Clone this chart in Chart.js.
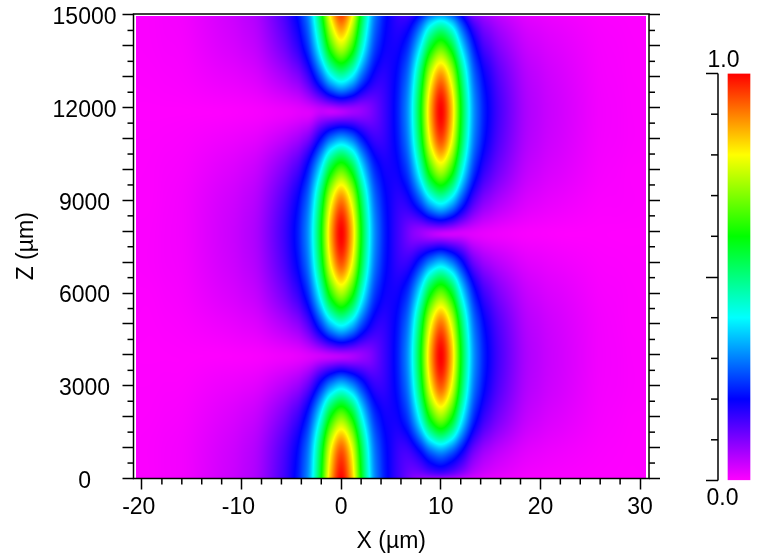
<!DOCTYPE html>
<html>
<head>
<meta charset="utf-8">
<script src="https://cdn.jsdelivr.net/npm/chart.js@4"></script>
<style>
  html, body { margin: 0; padding: 0; background: #fff; }
  #wrap { position: relative; width: 770px; height: 559px; overflow: hidden; }
  canvas { position: absolute; }
</style>
</head>
<body>
<div id="wrap">
  <canvas id="field" width="770" height="559" style="left:0;top:0"></canvas>
  <canvas id="bar" width="80" height="559" style="left:690px;top:0"></canvas>
</div>
<script>
// grid positions, values estimated from where the colour bands sit in the reference
const xs = [-21,-18,-15,-12,-10,-8,-6,-5,-4,-3,-2,-1,0,1,2,3,4,5,6,7,8,9,10,11,12,13,14,15,16,18,20,22,25,28,31];
const zs = [0,1000,2000,3000,4000,5000,6000,7000,8000,9000,10000,11000,12000,13000,14000,15000];

const z0     = [.002,.006,.015,.035,.050,.078,.140,.185,.250,.370,.600,.870,1.00,.870,.600,.370,.250,.185,.140,.100,.075,.058,.045,.042,.035,.028,.021,.015,.012,.006,.003,.002,.001,.000,.000];
const z1000  = [.002,.006,.014,.032,.046,.072,.129,.170,.230,.341,.552,.800,.920,.800,.553,.343,.237,.185,.155,.170,.232,.318,.360,.315,.232,.145,.095,.070,.053,.030,.019,.013,.006,.002,.001];
const z2000  = [.001,.004,.010,.024,.035,.054,.097,.129,.174,.265,.418,.606,.696,.607,.422,.274,.203,.185,.206,.282,.436,.628,.720,.627,.433,.272,.181,.134,.102,.057,.036,.025,.011,.004,.001];
const z3000  = [.001,.002,.005,.013,.018,.028,.051,.067,.091,.143,.231,.319,.366,.322,.243,.176,.158,.185,.239,.347,.560,.812,.932,.811,.560,.345,.234,.173,.131,.073,.047,.033,.014,.006,.002];
const z4000  = [.000,.000,.001,.002,.004,.007,.013,.016,.022,.031,.040,.050,.058,.066,.080,.101,.140,.185,.250,.370,.600,.870,1.00,.870,.600,.370,.250,.185,.140,.078,.050,.035,.015,.006,.002];
const z5000  = [.001,.002,.006,.014,.021,.032,.058,.076,.103,.163,.259,.363,.417,.366,.267,.193,.164,.185,.236,.340,.548,.793,.911,.793,.547,.338,.229,.170,.129,.071,.046,.032,.014,.005,.002];
const z6000  = [.001,.004,.011,.026,.037,.057,.103,.136,.183,.277,.441,.639,.734,.640,.444,.286,.208,.185,.201,.270,.413,.594,.681,.593,.409,.260,.172,.128,.096,.054,.034,.024,.010,.004,.001];
const z7000  = [.002,.006,.014,.033,.047,.073,.131,.174,.235,.348,.564,.817,.939,.817,.564,.350,.240,.185,.156,.170,.233,.307,.348,.303,.221,.135,.088,.065,.050,.028,.018,.012,.005,.002,.001];
const z8000  = [.002,.006,.015,.035,.050,.078,.140,.185,.250,.370,.599,.869,.999,.869,.599,.370,.250,.185,.140,.101,.080,.067,.058,.049,.038,.030,.022,.017,.013,.007,.004,.002,.001,.000,.000];
const z9000  = [.002,.005,.014,.032,.045,.070,.126,.167,.226,.335,.542,.786,.903,.786,.543,.338,.234,.185,.166,.198,.276,.381,.435,.378,.268,.169,.110,.082,.062,.035,.022,.015,.006,.003,.001];
const z10000 = [.001,.004,.010,.023,.033,.052,.093,.123,.166,.256,.400,.580,.666,.581,.405,.266,.199,.185,.210,.290,.452,.652,.748,.651,.449,.283,.187,.139,.106,.059,.037,.026,.011,.004,.001];
const z11000 = [.001,.002,.005,.011,.016,.025,.045,.060,.081,.124,.209,.290,.329,.296,.222,.165,.154,.185,.241,.352,.568,.824,.946,.823,.568,.351,.237,.175,.132,.074,.047,.033,.014,.006,.002];
const z12000 = [.000,.000,.001,.003,.005,.009,.016,.020,.027,.038,.055,.064,.079,.084,.086,.105,.140,.185,.250,.369,.599,.868,.998,.868,.599,.369,.249,.185,.140,.078,.050,.035,.015,.006,.002];
const z13000 = [.001,.003,.007,.016,.022,.035,.063,.083,.112,.177,.278,.394,.453,.397,.286,.203,.168,.185,.233,.334,.537,.778,.893,.777,.536,.331,.223,.167,.125,.070,.045,.031,.013,.005,.002];
const z14000 = [.002,.005,.011,.027,.038,.059,.106,.140,.190,.287,.456,.661,.760,.662,.459,.295,.212,.185,.197,.262,.397,.569,.653,.568,.392,.252,.163,.122,.091,.051,.033,.023,.010,.004,.001];
const z15000 = [.002,.006,.014,.033,.048,.074,.133,.176,.238,.353,.571,.828,.952,.828,.572,.354,.242,.185,.153,.159,.213,.281,.312,.276,.199,.114,.080,.060,.045,.025,.016,.011,.005,.002,.001];
const rows = [z0,z1000,z2000,z3000,z4000,z5000,z6000,z7000,z8000,z9000,z10000,z11000,z12000,z13000,z14000,z15000];

const yTickLabels = [0,3000,6000,9000,12000,15000];
const barTickLabels = ["0.0","1.0"];
const colourStops = [[0,255,0,255],[.2,0,0,255],[.4,0,255,255],[.6,0,255,0],[.8,255,255,0],[1,255,0,0]];

const FONT = "'Liberation Sans', Arial, sans-serif";
const FONT_SIZE = 23;

function colourAt(v) {
  for (let i = 1; i < colourStops.length; i++) {
    const a = colourStops[i-1], b = colourStops[i];
    if (v <= b[0]) {
      const t = (v - a[0]) / (b[0] - a[0]);
      return [a[1]+(b[1]-a[1])*t, a[2]+(b[2]-a[2])*t, a[3]+(b[3]-a[3])*t];
    }
  }
  return [255,0,0];
}

// cubic between grid nodes, on squared values so the dark nulls stay smooth
function cubic(pos, f, p) {
  let i = 0;
  while (i < pos.length-2 && p > pos[i+1]) i++;
  const h = pos[i+1]-pos[i], t = Math.max(0, Math.min(1, (p-pos[i])/h));
  const m0 = i > 0 ? (f[i+1]-f[i-1])/(pos[i+1]-pos[i-1]) : (f[i+1]-f[i])/h;
  const m1 = i < pos.length-2 ? (f[i+2]-f[i])/(pos[i+2]-pos[i]) : (f[i+1]-f[i])/h;
  const t2 = t*t, t3 = t2*t;
  return (2*t3-3*t2+1)*f[i] + (t3-2*t2+t)*h*m0 + (-2*t3+3*t2)*f[i+1] + (t3-t2)*h*m1;
}

const squared = rows.map(r => r.map(v => v*v));

const fieldPlugin = {
  id: "fieldPlugin",
  beforeDatasetsDraw(chart) {
    const sx = chart.scales.x, sy = chart.scales.y, ctx = chart.ctx;
    const left = 136, right = 646, top = 16, bottom = 478;
    const img = ctx.createImageData(right-left, bottom-top);
    for (let px = left; px < right; px++) {
      const xv = sx.getValueForPixel(px+.5);
      const col = squared.map(r => cubic(xs, r, xv));
      for (let py = top; py < bottom; py++) {
        const zv = Math.max(0, Math.min(15000, sy.getValueForPixel(py+.5)));
        const v = Math.sqrt(Math.max(0, cubic(zs, col, zv)));
        const c = colourAt(Math.min(1, v));
        const k = ((py-top)*(right-left) + (px-left))*4;
        img.data[k] = c[0]; img.data[k+1] = c[1]; img.data[k+2] = c[2]; img.data[k+3] = 255;
      }
    }
    ctx.putImageData(img, left, top);
  }
};

function tick(ctx, x1, y1, x2, y2) {
  ctx.beginPath(); ctx.moveTo(x1, y1); ctx.lineTo(x2, y2); ctx.stroke();
}

const framePlugin = {
  id: "framePlugin",
  afterDraw(chart) {
    const ctx = chart.ctx, a = chart.chartArea, sx = chart.scales.x, sy = chart.scales.y;
    ctx.save();
    ctx.strokeStyle = "#000"; ctx.lineWidth = 1.5;
    ctx.strokeRect(a.left, a.top, a.right-a.left, a.bottom-a.top);
    for (let v = -18; v <= 28; v += 2) {
      if (v % 10 === 0) continue;
      const p = sx.getPixelForValue(v);
      tick(ctx, p, a.bottom, p, a.bottom+6);
    }
    for (let v = 500; v < 15000; v += 1000) {
      const p = sy.getPixelForValue(v);
      tick(ctx, a.left, p, a.left-6, p);
      tick(ctx, a.right, p, a.right+6, p);
    }
    ctx.restore();
  }
};

const fieldPoints = [];
zs.forEach((z, j) => xs.forEach((x, i) => fieldPoints.push({x: x, y: z, v: rows[j][i]})));

// ticks on the z axes sit on whole thousands, the frame runs a bit past 15000
function thousands(s) { s.ticks = zs.map(v => ({value: v})); }
function noSidePadding(s) { s.paddingTop = 0; s.paddingBottom = 0; s.paddingLeft = 0; s.paddingRight = 0; }

new Chart(document.getElementById("field"), {
  type: "scatter",
  data: { datasets: [{ data: fieldPoints, pointRadius: 0 }] },
  options: {
    responsive: false,
    animation: false,
    layout: { padding: { top: 14 } },
    plugins: { legend: { display: false }, tooltip: { enabled: false } },
    scales: {
      x: {
        min: -20.85, max: 30.9,
        afterFit(s) { s.height = 80.5; noSidePadding(s); },
        border: { display: false },
        grid: { drawOnChartArea: false, tickLength: 11, tickColor: "#000", tickWidth: 1.5 },
        ticks: {
          stepSize: 10, includeBounds: false, autoSkip: false, maxRotation: 0, color: "#000", padding: 4.5,
          font: { family: FONT, size: FONT_SIZE },
          // the minus hangs out to the left, digits stay centred on the tick
          callback(v) { return v < 0 ? v + " " : String(v); }
        },
        title: { display: true, text: "X (\u00b5m)", color: "#000", font: { family: FONT, size: FONT_SIZE }, padding: { top: 0, bottom: 4 } }
      },
      y: {
        min: 0, max: 15032,
        afterBuildTicks: thousands,
        afterFit(s) { s.width = 133.5; noSidePadding(s); },
        border: { display: false },
        grid: { drawOnChartArea: false, tickLength: 11, tickColor: "#000", tickWidth: 1.5 },
        ticks: {
          autoSkip: false, crossAlign: "center", color: "#000", padding: 6, labelOffset: 3,
          font: { family: FONT, size: FONT_SIZE },
          callback(v) { return yTickLabels.includes(v) ? String(v) : ""; }
        },
        title: { display: true, text: "Z (\u00b5m)", color: "#000", font: { family: FONT, size: FONT_SIZE }, padding: { top: 13, bottom: 0 } }
      },
      yr: {
        position: "right",
        min: 0, max: 15032,
        afterBuildTicks: thousands,
        afterFit(s) { s.width = 121; noSidePadding(s); },
        border: { display: false },
        grid: { drawOnChartArea: false, tickLength: 11, tickColor: "#000", tickWidth: 1.5 },
        ticks: { autoSkip: false, display: false }
      }
    }
  },
  plugins: [fieldPlugin, framePlugin]
});

const barPlugin = {
  id: "barPlugin",
  afterDraw(chart) {
    const ctx = chart.ctx, a = chart.chartArea, sy = chart.scales.y;
    ctx.save();
    ctx.strokeStyle = "#000"; ctx.lineWidth = 1.5; ctx.fillStyle = "#000";
    tick(ctx, a.left, a.top, a.left, a.bottom);
    [.1,.2,.3,.4,.6,.7,.8,.9].forEach(v => {
      const p = sy.getPixelForValue(v);
      tick(ctx, a.left, p, a.left-7, p);
    });
    ctx.font = FONT_SIZE + "px " + FONT;
    ctx.textAlign = "center";
    ctx.textBaseline = "alphabetic";
    ctx.fillText(barTickLabels[1], a.left+5.5, a.top-7);
    ctx.fillText(barTickLabels[0], a.left+4.5, a.bottom+24.5);
    ctx.restore();
  }
};

new Chart(document.getElementById("bar"), {
  type: "bar",
  data: {
    labels: ["v"],
    datasets: [{
      data: [[0, 1]],
      barThickness: 22,
      backgroundColor(c) {
        const a = c.chart.chartArea;
        if (!a) return "#f0f";
        const g = c.chart.ctx.createLinearGradient(0, a.bottom, 0, a.top);
        colourStops.forEach(s => g.addColorStop(s[0], "rgb(" + s[1] + "," + s[2] + "," + s[3] + ")"));
        return g;
      }
    }]
  },
  options: {
    responsive: false,
    animation: false,
    layout: { padding: { top: 73.5, bottom: 78.5, right: 10, left: 0 } },
    plugins: { legend: { display: false }, tooltip: { enabled: false } },
    scales: {
      x: { display: false },
      y: {
        min: 0, max: 1,
        afterFit(s) { s.width = 28; noSidePadding(s); },
        border: { display: false },
        grid: { drawOnChartArea: false, tickLength: 12, tickColor: "#000", tickWidth: 1.5 },
        ticks: { stepSize: .5, display: false }
      }
    }
  },
  plugins: [barPlugin]
});
</script>
</body>
</html>
